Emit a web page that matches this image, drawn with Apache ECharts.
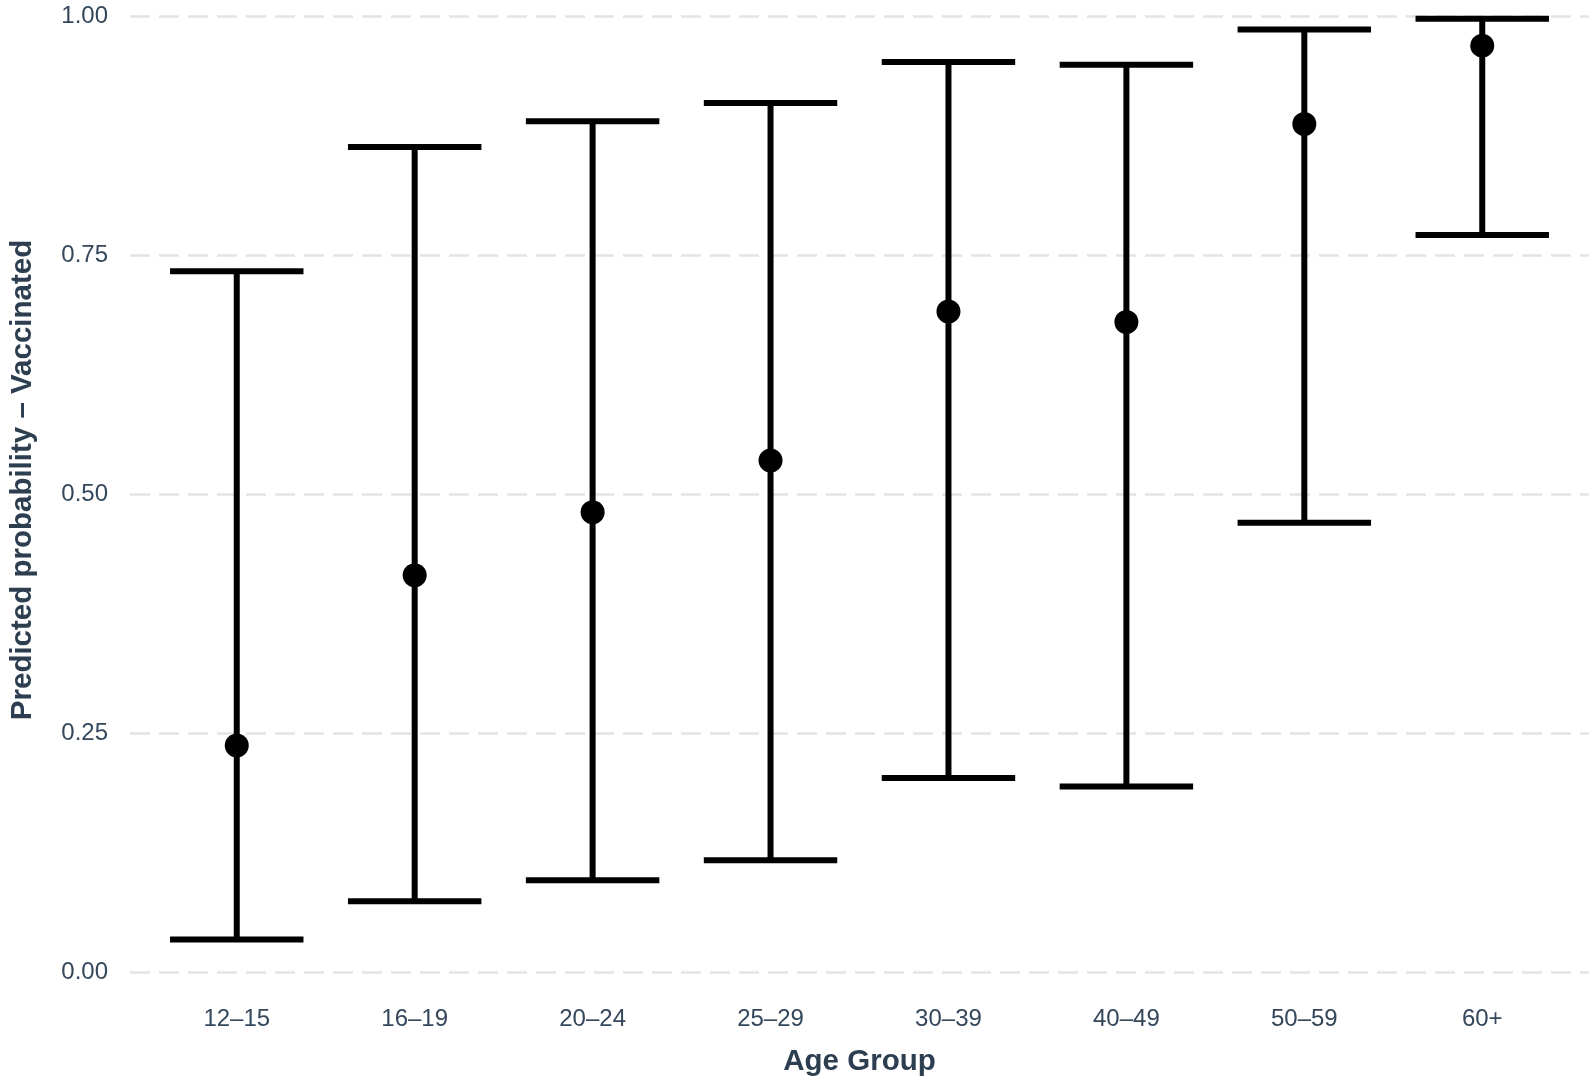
<!DOCTYPE html>
<html>
<head>
<meta charset="utf-8">
<title>Predicted probability by age group</title>
<script src="https://cdn.jsdelivr.net/npm/echarts@6/dist/echarts.min.js"></script>
<style>
	html, body { margin: 0; padding: 0; background: #fff; }
	.chart { width: 1595px; height: 1087px; }
</style>
</head>
<body>
<div class="chart"></div>
<script>
// 年龄组
var ageGroups = ['12–15', '16–19', '20–24', '25–29', '30–39', '40–49', '50–59', '60+'];
// 预测概率及置信区间
var estimate = [0.237, 0.415, 0.481, 0.535, 0.691, 0.680, 0.887, 0.969];
var lower = [0.034, 0.074, 0.096, 0.117, 0.203, 0.194, 0.470, 0.771];
var upper = [0.733, 0.863, 0.890, 0.909, 0.952, 0.949, 0.986, 0.997];
var yTicks = [0, 0.25, 0.5, 0.75, 1];

var labelColor = '#34475b';
var titleColor = '#2c3e50';

(function () {
	var myChart = echarts.init(document.querySelector('.chart'));

	var barData = [];
	var pointData = [];
	for (var i = 0; i < ageGroups.length; i++) {
		barData.push([i, lower[i], upper[i]]);
		pointData.push([i, estimate[i]]);
	}

	// 误差线：竖线 + 上下横线
	function renderBar(params, api) {
		var x = api.value(0);
		var lo = api.coord([x, api.value(1)]);
		var hi = api.coord([x, api.value(2)]);
		var left = api.coord([x - 0.375, api.value(1)])[0];
		var right = api.coord([x + 0.375, api.value(1)])[0];
		var style = { stroke: '#000', lineWidth: 6, lineCap: 'butt' };
		return {
			type: 'group',
			children: [
				{ type: 'line', shape: { x1: lo[0], y1: lo[1], x2: hi[0], y2: hi[1] }, style: style },
				{ type: 'line', shape: { x1: left, y1: hi[1], x2: right, y2: hi[1] }, style: style },
				{ type: 'line', shape: { x1: left, y1: lo[1], x2: right, y2: lo[1] }, style: style }
			]
		};
	}

	var option = {
		animation: false,
		backgroundColor: '#fff',
		grid: { left: 124, right: 6, top: 16, bottom: 115, containLabel: false },
		xAxis: {
			type: 'value',
			min: -0.6,
			max: 7.6,
			name: 'Age Group',
			nameLocation: 'middle',
			nameGap: 75,
			nameTextStyle: { fontFamily: 'Liberation Sans', fontSize: 29.5, fontWeight: 'bold', color: titleColor },
			axisLine: { show: false },
			axisTick: { show: false },
			splitLine: { show: false },
			axisLabel: {
				customValues: ageGroups.map(function (d, i) { return i; }),
				formatter: function (v) { return ageGroups[Math.round(v)]; },
				margin: 35,
				fontFamily: 'Liberation Sans',
				fontSize: 24,
				color: labelColor
			}
		},
		yAxis: {
			type: 'value',
			min: 0,
			max: 1,
			interval: 0.25,
			name: 'Predicted probability – Vaccinated',
			nameLocation: 'middle',
			nameGap: 92,
			nameTextStyle: { fontFamily: 'Liberation Sans', fontSize: 29.5, fontWeight: 'bold', color: titleColor, padding: [0, 0, 0, 28] },
			axisLine: { show: false },
			axisTick: { show: false },
			axisLabel: {
				customValues: yTicks,
				formatter: function (v) { return v.toFixed(2); },
				margin: 22,
				fontFamily: 'Liberation Sans',
				fontSize: 24,
				color: labelColor
			},
			splitLine: {
				show: true,
				lineStyle: { color: '#e4e4e4', width: 2.5, type: [20, 9] }
			}
		},
		series: [
			{
				name: 'CI',
				type: 'custom',
				renderItem: renderBar,
				data: barData,
				z: 2
			},
			{
				name: 'Estimate',
				type: 'scatter',
				symbol: 'circle',
				symbolSize: 24,
				itemStyle: { color: '#000', opacity: 1 },
				data: pointData,
				z: 3
			}
		]
	};
	myChart.setOption(option);

	window.addEventListener('resize', function () {
		myChart.resize();
	});
})();
</script>
</body>
</html>
